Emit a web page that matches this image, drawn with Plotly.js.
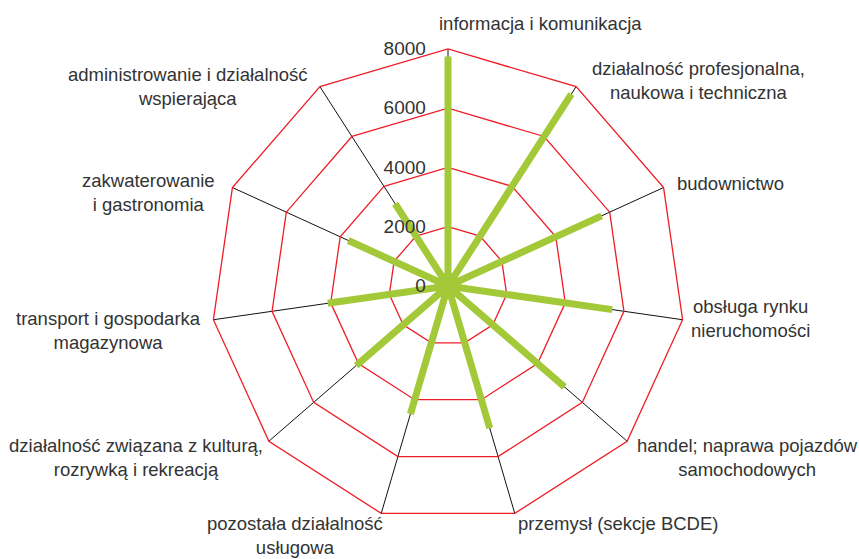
<!DOCTYPE html>
<html><head><meta charset="utf-8">
<script src="https://cdn.plot.ly/plotly-3.0.1.min.js"></script>
<style>html,body{margin:0;padding:0;background:#fff}#chart{width:859px;height:559px}</style>
</head><body><div id="chart"></div>
<script>
const categories = [
  "informacja i komunikacja",
  "działalność profesjonalna,<br>naukowa i techniczna",
  "budownictwo",
  "obsługa rynku<br>nieruchomości",
  "handel; naprawa pojazdów<br>samochodowych",
  "przemysł (sekcje BCDE)",
  "pozostała działalność<br>usługowa",
  "działalność związana z kulturą,<br>rozrywką i rekreacją",
  "transport i gospodarka<br>magazynowa",
  "zakwaterowanie<br>i gastronomia",
  "administrowanie i działalność<br>wspierająca"
];
const values = [7750, 7700, 5700, 5600, 5200, 5000, 4500, 4100, 4100, 3700, 3300];
const radialTicks = [0, 2000, 4000, 6000, 8000];
const radialTickLabels = ["0", "2000", "4000", "6000", "8000"];

// label positions in pixels (layout only)
const labelPos = [[540,23],[698,80],[730,184],[750,318],[747,457],[618,523],[295,535],[136,457],[108,330],[148,193],[188,86]];

const W = 859, H = 559;
const textColor = "#333333";
const fontFam = "Liberation Sans, Arial, sans-serif";

// spokes from centre to each value
const rSeg = [], tSeg = [];
categories.forEach((c, i) => { rSeg.push(0, values[i]); tSeg.push(c, c); });

const trace = {
  type: "scatterpolar",
  mode: "lines",
  r: rSeg,
  theta: tSeg,
  line: {color: "#a3c939", width: 7},
  hoverinfo: "skip",
  showlegend: false
};

const cx = 448, cy = 286, R = 237;
const annotations = categories.map((c, i) => ({
  text: c,
  x: labelPos[i][0] / W,
  y: 1 - labelPos[i][1] / H,
  xref: "paper", yref: "paper",
  xanchor: "center", yanchor: "middle",
  align: "center",
  showarrow: false,
  font: {size: 18.5, color: textColor, family: fontFam}
}));

const layout = {
  width: W, height: H,
  margin: {l: 0, r: 0, t: 0, b: 0},
  paper_bgcolor: "#ffffff",
  showlegend: false,
  font: {family: fontFam, color: textColor},
  annotations: annotations,
  polar: {
    domain: {x: [(cx - R) / W, (cx + R) / W], y: [1 - (cy + R) / H, 1 - (cy - R) / H]},
    gridshape: "linear",
    bgcolor: "rgba(0,0,0,0)",
    radialaxis: {
      range: [0, 8000],
      tickvals: radialTicks,
      ticktext: radialTickLabels,
      angle: 90,
      tickangle: 90,
      side: "counterclockwise",
      showline: false,
      ticks: "outside",
      ticklen: 15,
      tickcolor: "rgba(0,0,0,0)",
      gridcolor: "#ee1c25",
      gridwidth: 1.3,
      tickfont: {size: 19, color: textColor, family: fontFam}
    },
    angularaxis: {
      type: "category",
      categoryorder: "array",
      categoryarray: categories,
      direction: "clockwise",
      rotation: 90,
      showticklabels: false,
      ticks: "",
      showline: true,
      linecolor: "#ee1c25",
      linewidth: 1.3,
      gridcolor: "#111111",
      gridwidth: 1
    }
  }
};

Plotly.newPlot("chart", [trace], layout, {displayModeBar: false, staticPlot: true});
</script>
</body></html>
